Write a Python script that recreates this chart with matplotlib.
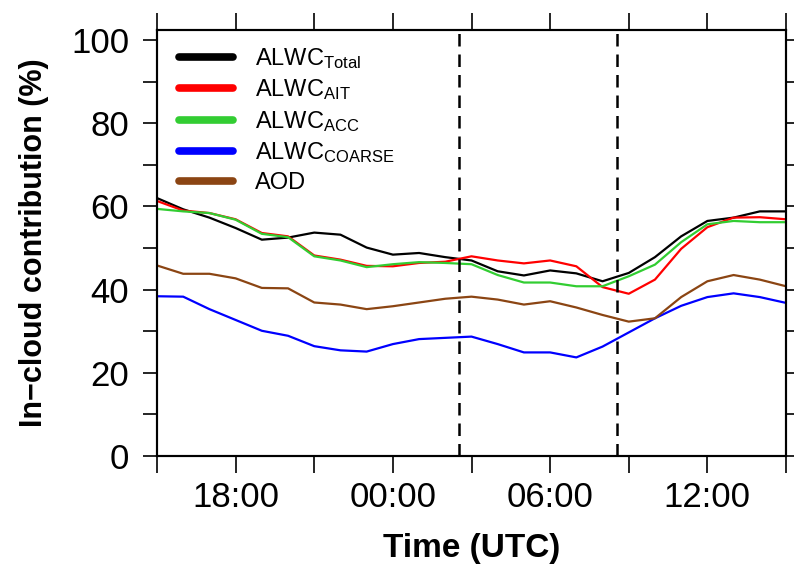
import matplotlib
matplotlib.use("Agg")
import matplotlib.pyplot as plt
import numpy as np

plt.rcParams['font.family'] = ['Liberation Sans', 'DejaVu Sans']
plt.rcParams['mathtext.fontset'] = 'custom'
plt.rcParams['mathtext.rm'] = 'Liberation Sans'
plt.rcParams['mathtext.it'] = 'Liberation Sans:italic'
plt.rcParams['mathtext.bf'] = 'Liberation Sans:bold'

# hours since 00:00 of first day (15:00 -> 15:00 next day)
hours = list(range(15, 40))

alwc_total = [62.0, 59.3, 57.3, 54.8, 52.0, 52.5, 53.7, 53.2, 50.1, 48.4, 48.8, 47.8,
              47.0, 44.4, 43.4, 44.6, 43.9, 42.0, 44.0, 47.8, 52.8, 56.5, 57.3, 58.8, 58.8]
alwc_ait = [61.3, 59.0, 58.4, 56.9, 53.6, 52.8, 48.2, 47.2, 45.7, 45.6, 46.4, 46.7,
            48.0, 47.0, 46.3, 47.0, 45.6, 40.6, 39.0, 42.4, 49.8, 55.0, 57.3, 57.4, 56.9]
alwc_acc = [59.4, 58.8, 58.4, 56.8, 53.4, 52.6, 48.0, 47.0, 45.4, 46.1, 46.6, 46.4,
            46.1, 43.5, 41.7, 41.7, 40.8, 40.8, 43.2, 46.0, 51.4, 55.7, 56.5, 56.2, 56.2]
alwc_coarse = [38.4, 38.3, 35.3, 32.7, 30.1, 28.9, 26.4, 25.4, 25.1, 26.9, 28.1, 28.4,
               28.7, 26.9, 24.9, 24.9, 23.7, 26.3, 29.7, 33.1, 36.1, 38.2, 39.1, 38.2, 36.8]
aod = [45.8, 43.8, 43.8, 42.7, 40.4, 40.3, 36.9, 36.4, 35.3, 36.0, 36.9, 37.8,
       38.3, 37.6, 36.4, 37.2, 35.7, 33.9, 32.3, 33.1, 38.2, 42.0, 43.5, 42.4, 40.8]

series_labels = [r'ALWC$_{\mathrm{Total}}$', r'ALWC$_{\mathrm{AIT}}$', r'ALWC$_{\mathrm{ACC}}$',
                 r'ALWC$_{\mathrm{COARSE}}$', 'AOD']
series_colors = ['#000000', '#FF0000', '#32CD32', '#0000FF', '#8B4513']

event_lines = [26.54, 32.54]
xtick_pos = [18, 24, 30, 36]
xtick_labels = ['18:00', '00:00', '06:00', '12:00']
yticks = [0, 20, 40, 60, 80, 100]

fig = plt.figure(figsize=(7.94, 5.70), dpi=100)
ax = fig.add_axes([157/794, 1 - 456/570, (786 - 157)/794, (456 - 30)/570])

for vals, lab, col in zip([alwc_total, alwc_ait, alwc_acc, alwc_coarse, aod],
                          series_labels, series_colors):
    ax.plot(hours, vals, color=col, lw=1.6, label=lab)

for xv in event_lines:
    ax.axvline(xv, color='black', lw=1.8, ls=(0, (5, 3.2)))

ax.set_xlim(15, 39)
ax.set_ylim(0, 102.4)

ax.set_xticks(xtick_pos)
ax.set_xticklabels(xtick_labels, fontsize=25)
ax.set_xticks(np.arange(15, 40, 3), minor=True)
ax.tick_params(axis='x', which='both', direction='out', length=12, width=1.2,
               top=True, labeltop=False, pad=6)

ax.set_yticks(yticks)
ax.set_yticklabels([str(v) for v in yticks], fontsize=25)
ax.set_yticks(np.arange(0, 101, 10), minor=True)
ax.tick_params(axis='y', which='both', direction='out', length=10, width=1.2,
               right=False, pad=10)

# right-hand ticks (shorter)
axr = ax.twinx()
axr.set_ylim(ax.get_ylim())
axr.set_yticks(np.arange(0, 101, 10))
axr.set_yticklabels([])
axr.tick_params(axis='y', direction='out', length=6, width=1.2)

for a in (ax, axr):
    for s in a.spines.values():
        s.set_linewidth(1.5)

ax.set_xlabel('Time (UTC)', fontsize=24, fontweight='bold', labelpad=14)
ax.set_ylabel('In\u2212cloud contribution (%)', fontsize=22, fontweight='bold', labelpad=16)

leg = ax.legend(loc='upper left', bbox_to_anchor=(0.02, 0.985), frameon=False,
                fontsize=17, handlelength=2.3, handletextpad=0.9, labelspacing=0.28,
                borderaxespad=0.0)
for h in leg.legend_handles:
    h.set_linewidth(5.5)
    h.set_solid_capstyle('round')

fig.savefig('out.png', dpi=100)
